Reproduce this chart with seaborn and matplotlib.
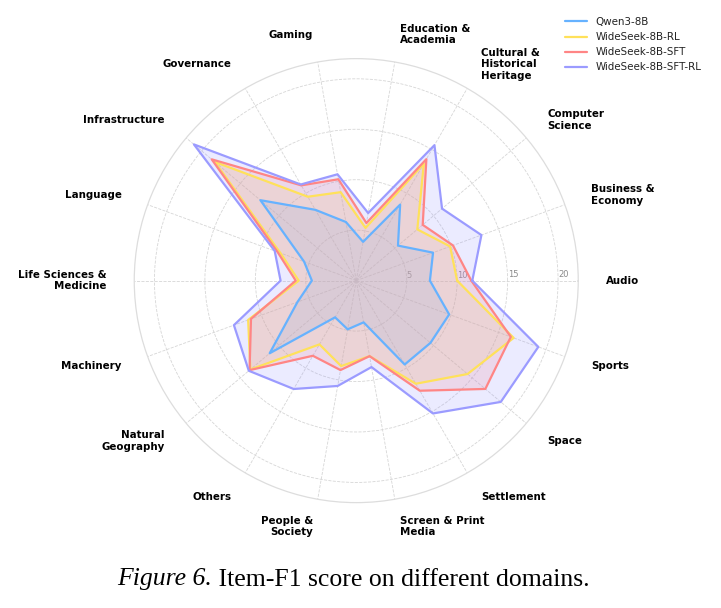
import numpy as np
import pandas as pd
import seaborn as sns
import matplotlib
matplotlib.use("Agg")
import matplotlib.pyplot as plt

# domains, counter-clockwise from the east axis
domains = ["Audio", "Business &\nEconomy", "Computer\nScience",
           "Cultural &\nHistorical\nHeritage", "Education &\nAcademia", "Gaming",
           "Governance", "Infrastructure", "Language", "Life Sciences &\nMedicine",
           "Machinery", "Natural\nGeography", "Others", "People &\nSociety",
           "Screen & Print\nMedia", "Settlement", "Space", "Sports"]
models = ["Qwen3-8B", "WideSeek-8B-RL", "WideSeek-8B-SFT", "WideSeek-8B-SFT-RL"]

# Item-F1 per domain
qwen = [7.3, 8.1, 5.4, 8.7, 3.9, 5.9, 8.1, 12.4, 5.5, 4.4, 6.2, 11.2, 4.2, 4.9, 4.2, 9.6, 9.6, 9.8]
rl = [10.0, 9.9, 7.9, 13.4, 5.3, 8.9, 9.6, 18.3, 8.0, 5.7, 11.4, 13.7, 7.3, 8.6, 7.6, 11.8, 14.4, 16.6]
sft = [11.4, 10.2, 8.6, 13.9, 5.8, 10.2, 10.9, 18.7, 8.3, 6.0, 11.1, 13.8, 8.6, 9.0, 7.6, 12.6, 16.7, 16.3]
sft_rl = [11.5, 13.2, 11.1, 15.5, 6.8, 10.7, 11.0, 21.0, 8.6, 7.5, 12.9, 13.9, 12.4, 10.6, 8.7, 15.2, 18.7, 19.2]
r_ticks = [5, 10, 15, 20]

colors = ["#66B2FF", "#FFE15A", "#FF8585", "#9B9BFF"]

sns.set_theme(style="white")
plt.rcParams["font.family"] = ["DejaVu Sans"]
plt.rcParams["text.color"] = "black"

# long table, each polygon closed by repeating the first domain
n = len(domains)
angles = np.linspace(0, 2 * np.pi, n, endpoint=False)
rows = []
for m, vals in zip(models, [qwen, rl, sft, sft_rl]):
    for a, v in zip(np.append(angles, 2 * np.pi), vals + vals[:1]):
        rows.append({"model": m, "angle": a, "score": v})
df = pd.DataFrame(rows)

fig = plt.figure(figsize=(7.21, 6.08), dpi=100)
ax = fig.add_axes([0.1862, 0.1733, 0.6158, 0.7303], projection="polar")

sns.lineplot(data=df, x="angle", y="score", hue="model", palette=colors,
             sort=False, linewidth=1.6, ax=ax, legend=False)
for m, c in zip(models, colors):
    sub = df[df["model"] == m]
    ax.fill(sub["angle"], sub["score"], color=c, alpha=0.2, linewidth=0)

ax.set_ylim(0, 22)
ax.set_xticks(angles)
ax.set_xticklabels([])
ax.set_yticks(r_ticks)
ax.set_yticklabels([str(t) for t in r_ticks], fontsize=6, color="#8a8a8a")
ax.set_rlabel_position(0.6)
ax.set_xlabel("")
ax.set_ylabel("")
ax.grid(True, linestyle="--", color="#d6d6d6", linewidth=0.6)
ax.spines["polar"].set_color("#dddddd")
ax.spines["polar"].set_linewidth(0.9)

for a, lab in zip(angles, domains):
    c = np.cos(a)
    ha = "center" if abs(c) < 0.05 else ("left" if c > 0 else "right")
    ax.text(a, 24.75, lab, ha=ha, va="center", fontsize=7.4,
            fontweight="bold", color="black", clip_on=False)

handles = [plt.Line2D([], [], color=c, linewidth=1.6) for c in colors]
fig.legend(handles, models, loc="upper left", bbox_to_anchor=(0.783, 0.972),
           frameon=False, fontsize=7.4, handlelength=2.2, borderpad=0,
           borderaxespad=0, labelspacing=0.5, handletextpad=0.8,
           labelcolor="#222222")

# caption with italic lead
fig.canvas.draw()
t1 = fig.text(0.16, 1 - 585.5 / 608, "Figure 6.", family="Liberation Serif",
              style="italic", fontsize=18.5, va="baseline", ha="left", color="black")
t2 = fig.text(0.16, 1 - 585.5 / 608, " Item-F1 score on different domains.",
              family="Liberation Serif", fontsize=18.5, va="baseline", ha="left",
              color="black")
r = fig.canvas.get_renderer()
w1 = t1.get_window_extent(r).width
w2 = t2.get_window_extent(r).width
x0 = 353.5 - (w1 + w2) / 2
t1.set_x(x0 / 721)
t2.set_x((x0 + w1) / 721)

fig.savefig("out.png", dpi=100)
